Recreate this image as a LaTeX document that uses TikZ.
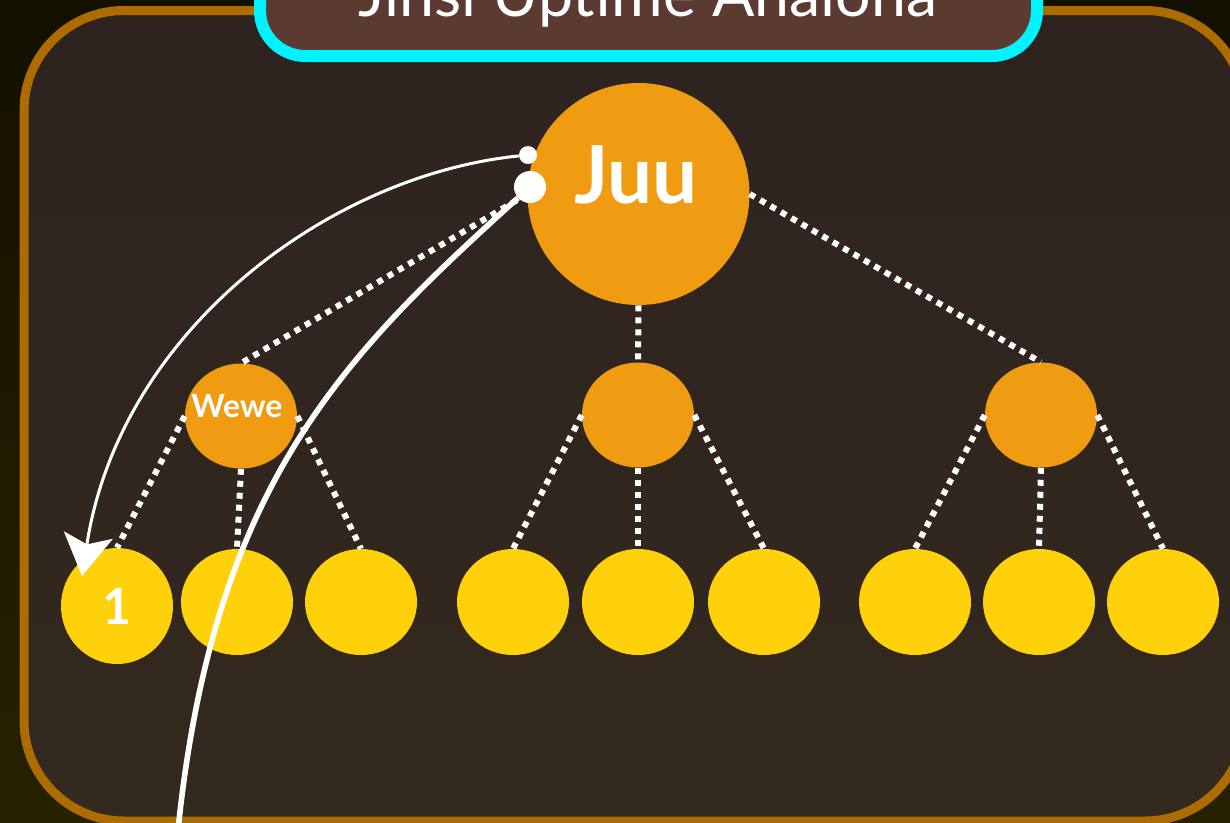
\documentclass[tikz,border=0pt]{standalone}
\usepackage{fontspec}
\setmainfont{Lato}
\usetikzlibrary{arrows.meta,shapes.geometric}
\definecolor{ngajuu}{HTML}{141000}
\definecolor{ngachini}{HTML}{262200}
\definecolor{ndanijuu}{HTML}{2E231F}
\definecolor{ndanichini}{HTML}{34291E}
\definecolor{ukingo}{HTML}{AD6C00}
\definecolor{kahawia}{HTML}{5B3A32}
\definecolor{samawati}{HTML}{00F4FF}
\definecolor{chungwa}{HTML}{EF9C13}
\definecolor{njano}{HTML}{FFD10A}
\begin{document}
\begin{tikzpicture}[x=0.75pt,y=-0.75pt,
  mzazi/.style={ellipse, fill=chungwa, inner sep=0pt, minimum width=84pt, minimum height=78.75pt},
  jani/.style={ellipse, fill=njano, inner sep=0pt, minimum width=84pt, minimum height=79.5pt},
  tawi/.style={white, line width=4.5pt, dash pattern=on 4.5pt off 4.5pt},
  nukta/.style={circle, fill=white, inner sep=0pt}]
\useasboundingbox (0,0) rectangle (1230,822);
% background and frame
\shade[top color=ngajuu, bottom color=ngachini] (0,0) rectangle (1230,822);
\path[draw=ukingo, line width=6.75pt, top color=ndanijuu, bottom color=ndanichini, rounded corners=75pt] (24,10.5) rectangle (1245,821);
\draw[samawati, line width=9pt, fill=kahawia, rounded corners=34pt] (260,-60) rectangle (1037,56);
\node (kichwa)[anchor=base, text=white, inner sep=0pt, font=\fontsize{47pt}{54pt}\selectfont] at (648,16) {Jinsi Uptime Anaiona};

% tree
\node (juu)[circle, fill=chungwa, inner sep=0pt, minimum size=166.5pt,
  label={[text=white, font=\bfseries\fontsize{60pt}{64pt}\selectfont, yshift=14pt, xshift=-2pt]center:Juu}] at (638.5,194) {};
\node (wewe)[mzazi, label={[text=white, font=\bfseries\fontsize{24pt}{28pt}\selectfont, yshift=7.5pt, xshift=-3pt]center:Wewe}] at (241,416) {};
\node (kati)[mzazi] at (638,415) {};
\node (kulia)[mzazi] at (1041,415) {};

\node (a1)[jani, minimum height=87pt, text=white, font=\bfseries\fontsize{37.5pt}{40pt}\selectfont] at (117,606) {1};
\node (a2)[jani] at (237,602) {};
\node (a3)[jani] at (361,602) {};
\node (b1)[jani] at (513,602) {};
\node (b2)[jani] at (638,602) {};
\node (b3)[jani] at (764,602) {};
\node (c1)[jani] at (915,602) {};
\node (c2)[jani] at (1039,602) {};
\node (c3)[jani] at (1163,602) {};

\draw [tawi](juu.west)edge (wewe.north);
\draw [tawi](juu.south)edge (kati.north);
\draw [tawi](juu.east)edge (kulia.north);
\draw [tawi](wewe.west)edge (a1.north);
\draw [tawi](wewe.south)edge (a2.north);
\draw [tawi](wewe.east)edge (a3.north);
\draw [tawi](kati.west)edge (b1.north);
\draw [tawi](kati.south)edge (b2.north);
\draw [tawi](kati.east)edge (b3.north);
\draw [tawi](kulia.west)edge (c1.north);
\draw [tawi](kulia.south)edge (c2.north);
\draw [tawi](kulia.east)edge (c3.north);

% curves
\node (ncha)[nukta, minimum size=13.5pt] at (528,155) {};
\node (doti)[nukta, minimum size=24pt] at (530,187) {};
\coordinate (mshale) at (82,576);
\coordinate (chini) at (178,830);
\draw [white, line width=2.25pt, -{Stealth[length=31pt, width=37pt, inset=7pt]}](ncha) .. controls (330,175) and (120,330) .. (mshale);
\draw [white, line width=4.2pt](doti) .. controls (345,354.5) and (214,482) .. (chini);
\end{tikzpicture}
\end{document}
